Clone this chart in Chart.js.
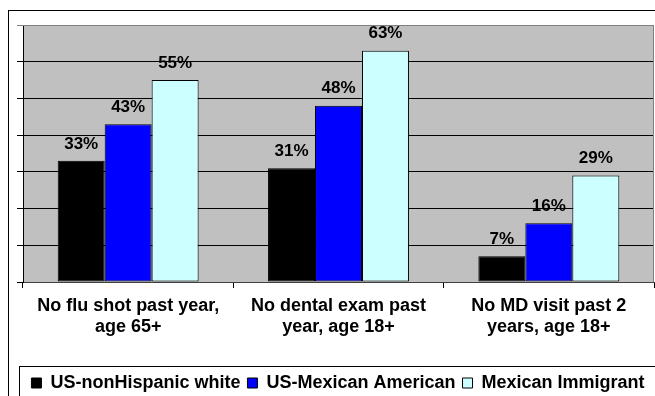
<!DOCTYPE html>
<html>
<head>
<meta charset="utf-8">
<script src="https://cdn.jsdelivr.net/npm/chart.js@4/dist/chart.umd.min.js"></script>
<style>
  html, body { margin: 0; padding: 0; background: #fff; overflow: hidden; }
  #wrap { position: relative; width: 655px; height: 396px; overflow: hidden; }
  #frame { position: absolute; left: 8px; top: 10px; width: 700px; height: 450px; border-left: 1px solid #000; border-top: 1px solid #000; }
  #legbox { position: absolute; left: 19px; top: 366px; width: 700px; height: 100px; border-left: 1px solid #000; border-top: 1px solid #000; }
  canvas { position: absolute; left: 0; top: 0; }
</style>
</head>
<body>
<div id="wrap">
  <div id="frame"></div>
  <div id="legbox"></div>
  <canvas id="c" width="655" height="396"></canvas>
</div>
<script>
const categories = [
  ["No flu shot past year,", "age 65+"],
  ["No dental exam past", "year, age 18+"],
  ["No MD visit past 2", "years, age 18+"]
];
const seriesNames = ["US-nonHispanic white", "US-Mexican American", "Mexican Immigrant"];
const whiteValues = [33, 31, 7];
const mexAmericanValues = [43, 48, 16];
const immigrantValues = [55, 63, 29];
const yTicks = [0, 10, 20, 30, 40, 50, 60, 70];

const FONT = "'Liberation Sans', Arial, sans-serif";

const plotBg = {
  id: 'plotBg',
  beforeDraw(chart) {
    const {ctx, chartArea: a} = chart;
    ctx.save();
    ctx.fillStyle = '#C0C0C0';
    ctx.fillRect(a.left, a.top, a.right - a.left, a.bottom - a.top);
    ctx.restore();
  },
  afterDraw(chart) {
    const {ctx, chartArea: a} = chart;
    ctx.save();
    ctx.strokeStyle = '#808080';
    ctx.lineWidth = 1;
    ctx.beginPath();
    ctx.moveTo(a.left, a.top + 0.5);
    ctx.lineTo(a.right - 0.5, a.top + 0.5);
    ctx.lineTo(a.right - 0.5, a.bottom);
    ctx.stroke();
    ctx.restore();
  }
};

const valueLabels = {
  id: 'valueLabels',
  afterDatasetsDraw(chart) {
    const {ctx} = chart;
    ctx.save();
    ctx.font = "bold 17px " + FONT;
    ctx.fillStyle = '#000';
    ctx.textAlign = 'center';
    ctx.textBaseline = 'middle';
    chart.data.datasets.forEach((ds, i) => {
      const meta = chart.getDatasetMeta(i);
      meta.data.forEach((el, j) => {
        ctx.fillText(ds.data[j] + '%', el.x, el.y - 17);
      });
    });
    ctx.restore();
  }
};

new Chart(document.getElementById('c'), {
  type: 'bar',
  data: {
    labels: categories,
    datasets: [
      { label: seriesNames[0], data: whiteValues, backgroundColor: '#000000', borderColor: '#000000', borderWidth: 1, borderSkipped: false },
      { label: seriesNames[1], data: mexAmericanValues, backgroundColor: '#0000FF', borderColor: '#000000', borderWidth: 1, borderSkipped: false },
      { label: seriesNames[2], data: immigrantValues, backgroundColor: '#CCFFFF', borderColor: '#000000', borderWidth: 1, borderSkipped: false }
    ]
  },
  options: {
    responsive: false,
    animation: false,
    devicePixelRatio: 1,
    categoryPercentage: 0.67,
    barPercentage: 1.0,
    layout: { padding: { top: 25, left: 22, right: 1, bottom: -6 } },
    plugins: {
      tooltip: { enabled: false },
      legend: {
        position: 'bottom',
        labels: {
          boxWidth: 10,
          boxHeight: 10,
          padding: 7,
          color: '#000',
          font: { family: FONT, size: 18, weight: 'bold' }
        }
      }
    },
    scales: {
      x: {
        grid: { display: true, drawOnChartArea: false, drawTicks: true, tickLength: 6, color: '#000', offset: true },
        border: { display: true, color: '#404040' },
        ticks: { color: '#000', font: { family: FONT, size: 18, weight: 'bold', lineHeight: 1.15 }, padding: 8, maxRotation: 0 },
        afterFit(scale) { scale.height = 85; }
      },
      y: {
        min: yTicks[0],
        max: yTicks[yTicks.length - 1],
        afterBuildTicks(scale) { scale.ticks = yTicks.map(v => ({ value: v })); },
        grid: {
          color: ctx => (ctx.tick && ctx.tick.value === yTicks[yTicks.length - 1]) ? '#808080' : '#000',
          lineWidth: 1,
          drawTicks: true,
          tickLength: 6
        },
        border: { display: true, color: '#000' },
        ticks: { display: false },
        afterFit(scale) { scale.width = 1; }
      }
    }
  },
  plugins: [plotBg, valueLabels]
});
</script>
</body>
</html>
